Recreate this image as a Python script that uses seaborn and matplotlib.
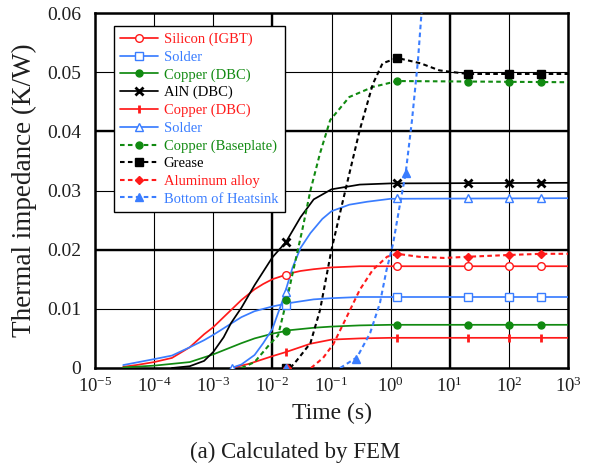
import numpy as np
import pandas as pd
import matplotlib
matplotlib.use("Agg")
import matplotlib.pyplot as plt
import seaborn as sns
from matplotlib.lines import Line2D
from matplotlib.ticker import NullLocator

# ---------------- data ----------------
si_t = [3e-5, 5e-5, 1e-4, 2e-4, 4e-4, 7e-4, 1e-3, 1.5e-3, 2e-3, 3e-3, 5e-3, 7e-3, 1e-2, 2e-2, 3e-2, 5e-2, 0.1, 0.3, 1, 10, 1000]
si_z = [0.0002, 0.0005, 0.001, 0.0017, 0.0035, 0.0057, 0.0069, 0.0086, 0.0098, 0.0115, 0.0133, 0.0142, 0.015, 0.016, 0.0164, 0.0167, 0.017, 0.0172, 0.0172, 0.0172, 0.0172]
si_mt = [0.017, 1.3, 20, 100, 350]
si_mz = [0.0157, 0.0172, 0.0172, 0.0172, 0.0172]

sd1_t = [3e-5, 1e-4, 2e-4, 4e-4, 7e-4, 1e-3, 2e-3, 3e-3, 5e-3, 1e-2, 2e-2, 5e-2, 0.1, 0.3, 1, 1000]
sd1_z = [0.0005, 0.0015, 0.0021, 0.0035, 0.0047, 0.0056, 0.0075, 0.0086, 0.0096, 0.0104, 0.011, 0.0116, 0.0118, 0.012, 0.012, 0.012]
sd1_mt = [0.017, 1.3, 20, 100, 350]
sd1_mz = [0.0106, 0.012, 0.012, 0.012, 0.012]

cu1_t = [3e-5, 1e-4, 4e-4, 1e-3, 2e-3, 3e-3, 5e-3, 1e-2, 2e-2, 5e-2, 0.1, 0.3, 1, 1000]
cu1_z = [0.0001, 0.0004, 0.001, 0.0023, 0.0035, 0.0042, 0.005, 0.0058, 0.0064, 0.0068, 0.007, 0.0072, 0.0073, 0.0073]
cu1_mt = [0.017, 1.3, 20, 100, 350]
cu1_mz = [0.0063, 0.0073, 0.0073, 0.0073, 0.0073]

aln_t = [2e-4, 4e-4, 7e-4, 1e-3, 1.5e-3, 2e-3, 3e-3, 5e-3, 1e-2, 1.7e-2, 3e-2, 5e-2, 0.1, 0.3, 1, 1000]
aln_z = [0.0, 0.0003, 0.0012, 0.0027, 0.0052, 0.0076, 0.0102, 0.014, 0.0187, 0.0213, 0.0255, 0.0285, 0.0302, 0.031, 0.0312, 0.0313]
aln_mt = [0.017, 1.3, 20, 100, 350]
aln_mz = [0.0213, 0.0312, 0.0312, 0.0312, 0.0312]

cu2_t = [2e-3, 4e-3, 1e-2, 1.7e-2, 4.4e-2, 0.1, 0.3, 1, 1000]
cu2_z = [0.0, 0.0007, 0.002, 0.0027, 0.0041, 0.0048, 0.005, 0.0051, 0.0051]
cu2_mt = [0.017, 1.3, 20, 100, 350]
cu2_mz = [0.0027, 0.0051, 0.0051, 0.0051, 0.0051]

sd2_t = [2e-3, 3e-3, 5e-3, 7e-3, 1e-2, 1.5e-2, 2.2e-2, 3e-2, 4.4e-2, 0.07, 0.1, 0.2, 0.4, 1, 1000]
sd2_z = [0.0, 0.0006, 0.0022, 0.0042, 0.0066, 0.0115, 0.017, 0.0203, 0.0228, 0.0252, 0.0265, 0.0276, 0.0281, 0.0286, 0.0287]
sd2_mt = [0.0021, 0.017, 1.3, 20, 100, 350]
sd2_mz = [0.0, 0.0128, 0.0287, 0.0287, 0.0287, 0.0287]

bp_t = [3e-3, 5e-3, 9e-3, 1.25e-2, 1.75e-2, 2.4e-2, 3.2e-2, 4.4e-2, 6.4e-2, 9.5e-2, 0.2, 0.5, 1.3, 1000]
bp_z = [0.0, 0.001, 0.004, 0.0055, 0.0115, 0.0177, 0.0233, 0.03, 0.0363, 0.0419, 0.0458, 0.0475, 0.0485, 0.0483]
bp_mt = [0.017, 1.3, 20, 100, 350]
bp_mz = [0.0115, 0.0485, 0.0483, 0.0483, 0.0483]

gr_t = [2e-2, 2.6e-2, 4.4e-2, 6.4e-2, 0.1, 0.157, 0.3, 0.5, 0.73, 1.3, 3.2, 6.7, 20, 1000]
gr_z = [0.0, 0.0013, 0.0042, 0.0098, 0.02, 0.0284, 0.0402, 0.048, 0.0515, 0.0524, 0.0515, 0.0503, 0.0497, 0.0497]
gr_mt = [0.017, 1.3, 20, 100, 350]
gr_mz = [0.0, 0.0524, 0.0497, 0.0497, 0.0497]

al_t = [4.5e-2, 7.2e-2, 0.107, 0.18, 0.3, 0.5, 0.87, 1.3, 3, 8, 20, 100, 350, 1000]
al_z = [0.0, 0.0017, 0.004, 0.0086, 0.0132, 0.0166, 0.0188, 0.0193, 0.0188, 0.0186, 0.0188, 0.0191, 0.0193, 0.0193]
al_mt = [0.018, 1.3, 20, 100, 350]
al_mz = [0.0, 0.0193, 0.0188, 0.0191, 0.0193]

hs_t = [0.14, 0.27, 0.45, 0.66, 0.85, 1.1, 1.4, 1.8, 2.3, 2.9, 3.3, 4.5]
hs_z = [0.0, 0.0018, 0.0059, 0.011, 0.0165, 0.021, 0.027, 0.033, 0.0419, 0.052, 0.0595, 0.075]
hs_mt = [0.017, 0.26, 1.8]
hs_mz = [0.0, 0.0015, 0.033]

labels = ["Silicon (IGBT)", "Solder", "Copper (DBC)", "AlN (DBC)", "Copper (DBC)",
          "Solder", "Copper (Baseplate)", "Grease", "Aluminum alloy", "Bottom of Heatsink"]
x_ticks = [1e-5, 1e-4, 1e-3, 1e-2, 1e-1, 1e0, 1e1, 1e2, 1e3]
x_tick_labels = ["10$^{-5}$", "10$^{-4}$", "10$^{-3}$", "10$^{-2}$", "10$^{-1}$",
                 "10$^{0}$", "10$^{1}$", "10$^{2}$", "10$^{3}$"]
y_ticks = [0, 0.01, 0.02, 0.03, 0.04, 0.05, 0.06]
y_tick_labels = ["0", "0.01", "0.02", "0.03", "0.04", "0.05", "0.06"]

# ---------------- style ----------------
sns.set_theme(style="white")
plt.rcParams["font.family"] = ["Liberation Serif", "DejaVu Serif"]
plt.rcParams["mathtext.fontset"] = "custom"
plt.rcParams["mathtext.rm"] = "Liberation Serif"
plt.rcParams["mathtext.it"] = "Liberation Serif:italic"
plt.rcParams["mathtext.default"] = "regular"

RED = "#ff1a1a"
BLUE = "#3a7dff"
GREEN = "#118a11"
BLACK = "#000000"
SOLID = "-"
DASH = (0, (2.2, 1.6))
TXT = "#1e1e1e"

series = [
    (si_t, si_z, si_mt, si_mz, RED, SOLID, "o", "white"),
    (sd1_t, sd1_z, sd1_mt, sd1_mz, BLUE, SOLID, "s", "white"),
    (cu1_t, cu1_z, cu1_mt, cu1_mz, GREEN, SOLID, "o", GREEN),
    (aln_t, aln_z, aln_mt, aln_mz, BLACK, SOLID, "x", BLACK),
    (cu2_t, cu2_z, cu2_mt, cu2_mz, RED, SOLID, "|", RED),
    (sd2_t, sd2_z, sd2_mt, sd2_mz, BLUE, SOLID, "^", "white"),
    (bp_t, bp_z, bp_mt, bp_mz, GREEN, DASH, "o", GREEN),
    (gr_t, gr_z, gr_mt, gr_mz, BLACK, DASH, "s", BLACK),
    (al_t, al_z, al_mt, al_mz, RED, DASH, "D", RED),
    (hs_t, hs_z, hs_mt, hs_mz, BLUE, DASH, "^", BLUE),
]

fig = plt.figure(figsize=(5.94, 4.66), dpi=100)
ax = fig.add_axes([95 / 594, 98 / 466, 473 / 594, 355 / 466])
ax.set_facecolor("white")

handles = []
for (t, z, mt, mz, c, ls, mk, mfc) in series:
    lw = 1.25 if ls == SOLID else 1.5
    df = pd.DataFrame({"t": t, "z": z})
    sns.lineplot(data=df, x="t", y="z", ax=ax, color=c, linewidth=lw,
                 linestyle=ls, estimator=None, legend=False, zorder=3)
    ms = 5.5 if mk in ("o", "s", "^") else 6
    if mk == "D":
        ms = 4.5
    if mk == "o" and mfc != "white":
        ms = 5
    mew = 1.0 if mk not in ("x", "|") else 2.0
    ax.plot(mt, mz, linestyle="none", marker=mk, markersize=ms,
            markerfacecolor=mfc, markeredgecolor=c, markeredgewidth=mew, zorder=4)
    handles.append(Line2D([0], [0], color=c, linestyle=ls, linewidth=lw, marker=mk,
                          markersize=ms, markerfacecolor=mfc, markeredgecolor=c,
                          markeredgewidth=mew))

ax.set_xscale("log")
ax.set_xlim(1e-5, 1e3)
ax.set_ylim(0, 0.06)
ax.set_xticks(x_ticks)
ax.set_xticklabels(x_tick_labels)
ax.xaxis.set_minor_locator(NullLocator())
ax.set_yticks(y_ticks)
ax.set_yticklabels(y_tick_labels)
ax.tick_params(axis="both", length=0, colors=TXT)
ax.tick_params(axis="x", pad=6, labelsize=13.5)
ax.tick_params(axis="y", pad=10, labelsize=14)

ax.grid(True, which="major", color="black", linewidth=0.8)
ax.set_axisbelow(True)
for xv in (1e-2, 1e1):
    ax.axvline(xv, color="black", linewidth=1.7, zorder=1)
for yv in (0.02, 0.04):
    ax.axhline(yv, color="black", linewidth=1.7, zorder=1)
for sp in ax.spines.values():
    sp.set_color("black")
    sp.set_linewidth(1.8)

ax.set_xlabel("Time (s)", fontsize=17, color=TXT, labelpad=5)
ax.set_ylabel("Thermal impedance (K/W)", fontsize=19.5, color=TXT, labelpad=7)

leg = ax.legend(handles, labels, loc="upper left", bbox_to_anchor=(0.040, 0.963),
                borderaxespad=0, frameon=True, fancybox=False, framealpha=1,
                edgecolor="black", fontsize=10.5, handlelength=2.6,
                handletextpad=0.35, labelspacing=0.3, borderpad=0.45)
leg.get_frame().set_linewidth(1.0)
text_colors = [RED, BLUE, GREEN, BLACK, RED, BLUE, GREEN, BLACK, RED, BLUE]
for txt, col in zip(leg.get_texts(), text_colors):
    txt.set_color(col)
leg.set_zorder(5)

fig.text(0.497, 0.030, "(a) Calculated by FEM", ha="center", va="center",
         fontsize=16.5, color=TXT)

fig.savefig("out.png", dpi=100, facecolor="white")
